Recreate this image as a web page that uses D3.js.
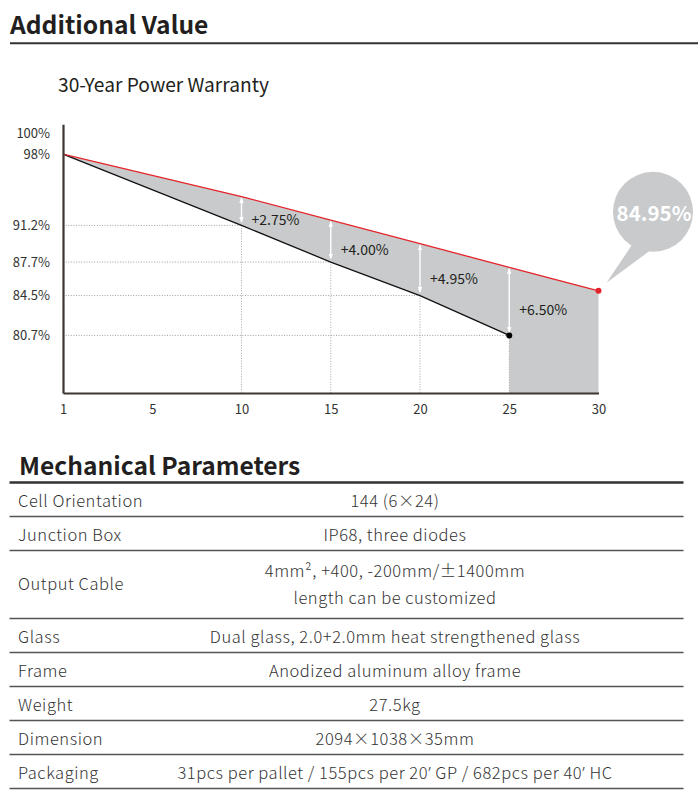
<!DOCTYPE html>
<html><head><meta charset="utf-8">
<script src="https://cdn.jsdelivr.net/npm/d3@7"></script>
<style>
html,body{margin:0;padding:0;background:#fff;}
svg{display:block;font-family:"Noto Sans CJK SC","Noto Sans",sans-serif;}
</style></head>
<body><svg id="c" width="698" height="795"></svg>
<script>
// ---- data ----
const years = ["1","5","10","15","20","25","30"];
const standardYears = ["1","10","15","20","25"];
const standardValues = [98, 91.2, 87.7, 84.5, 80.7];
const warrantyYears = ["1","10","15","20","25","30"];
const warrantyValues = [98, 93.95, 91.7, 89.45, 87.2, 84.95];
const gainYears = ["10","15","20","25"];
const gainLabels = ["+2.75%","+4.00%","+4.95%","+6.50%"];
const yTickValues = [80.7, 84.5, 87.7, 91.2, 98, 100];
const yTickLabels = ["80.7%","84.5%","87.7%","91.2%","98%","100%"];
const paramNames = ["Cell Orientation","Junction Box","Output Cable","Glass","Frame","Weight","Dimension","Packaging"];
const paramValues = [
  ["144 (6×24)"],
  ["IP68, three diodes"],
  ["4mm², +400, -200mm/±1400mm","length can be customized"],
  ["Dual glass, 2.0+2.0mm heat strengthened glass"],
  ["Anodized aluminum alloy frame"],
  ["27.5kg"],
  ["2094×1038×35mm"],
  ["31pcs per pallet / 155pcs per 20’ GP / 682pcs per 40’ HC"]
];

// ---- setup ----
const svg = d3.select("#c");
const dark = "#231f20", axisCol = "#3d3632", fillCol = "#c8cacc", redCol = "#e3262b";

svg.append("text").attr("x",10).attr("y",33.5).attr("font-size",24.6).attr("font-weight",700)
  .attr("fill",dark).text("Additional Value");
svg.append("line").attr("x1",10).attr("x2",698).attr("y1",43.3).attr("y2",43.3)
  .attr("stroke","#333").attr("stroke-width",2);
svg.append("text").attr("x",58).attr("y",92).attr("font-size",19.2)
  .attr("fill",dark).text("30-Year Power Warranty");

const x = d3.scalePoint().domain(years).range([63, 598.5]);
const y = d3.scaleLinear().domain([75.2, 100.85]).range([393, 124.3]);
const bottom = y.range()[0];

const std = standardYears.map((d,i)=>({year:d, v:standardValues[i]}));
const war = warrantyYears.map((d,i)=>({year:d, v:warrantyValues[i]}));
const stdMap = new Map(std.map(d=>[d.year,d.v]));
const warMap = new Map(war.map(d=>[d.year,d.v]));

// filled region
const poly = [];
war.forEach(d=>poly.push([x(d.year), y(d.v)]));
poly.push([x(war[war.length-1].year), bottom]);
poly.push([x(std[std.length-1].year), bottom]);
std.slice().reverse().forEach(d=>poly.push([x(d.year), y(d.v)]));
svg.append("path").attr("d", d3.line()(poly) + "Z").attr("fill", fillCol);

// dotted grid lines
const g = svg.append("g");
std.slice(1).forEach(d=>{
  g.append("line").attr("x1",x("1")).attr("x2",x(d.year)).attr("y1",y(d.v)).attr("y2",y(d.v))
    .attr("stroke","#9d9d9d").attr("stroke-width",1).attr("stroke-dasharray","1,1.6");
  g.append("line").attr("x1",x(d.year)).attr("x2",x(d.year)).attr("y1",y(d.v)).attr("y2",bottom)
    .attr("stroke","#a8a8a8").attr("stroke-width",1).attr("stroke-dasharray","1,1.6");
});

// arrows
const defs = svg.append("defs");
defs.append("marker").attr("id","ah").attr("viewBox","0 0 6 6").attr("refX",5).attr("refY",3)
  .attr("markerWidth",6).attr("markerHeight",6).attr("orient","auto-start-reverse")
  .attr("markerUnits","userSpaceOnUse")
  .append("path").attr("d","M0,0.8L6,3L0,5.2Z").attr("fill","#fff");
gainYears.forEach((yr,i)=>{
  const yr1 = y(warMap.get(yr)), yb = y(stdMap.get(yr));
  svg.append("line").attr("x1",x(yr)).attr("x2",x(yr)).attr("y1",yb-3.5).attr("y2",yr1+1.5)
    .attr("stroke","#fff").attr("stroke-width",1.4)
    .attr("marker-start","url(#ah)").attr("marker-end","url(#ah)");
  svg.append("text").attr("x",x(yr)+10).attr("y",(yb+yr1)/2+8).attr("dominant-baseline","central")
    .attr("font-size",14).attr("fill",dark).text(gainLabels[i]);
});

// lines
const line = d3.line().x(d=>x(d.year)).y(d=>y(d.v));
svg.append("path").attr("d",line(std)).attr("fill","none").attr("stroke","#111").attr("stroke-width",1.3);
svg.append("path").attr("d",line(war)).attr("fill","none").attr("stroke",redCol).attr("stroke-width",1.3);

// axes
const yAxis = d3.axisLeft(y).tickValues(yTickValues).tickSize(0).tickPadding(13)
  .tickFormat((d,i)=>yTickLabels[i]);
const ya = svg.append("g").attr("transform",`translate(${x("1")},0)`).call(yAxis);
const xAxis = d3.axisBottom(x).tickSize(0).tickPadding(12);
const xa = svg.append("g").attr("transform",`translate(0,${bottom})`).call(xAxis);
[ya,xa].forEach(a=>{
  a.select(".domain").attr("stroke",axisCol).attr("stroke-width",2.2);
  a.selectAll("text").attr("font-size",13).attr("fill","#333")
    .attr("font-family","'Noto Sans CJK SC','Noto Sans',sans-serif");
});

// end dots
const lastStd = std[std.length-1], lastWar = war[war.length-1];
svg.append("circle").attr("cx",x(lastStd.year)).attr("cy",y(lastStd.v)).attr("r",3).attr("fill","#000");
svg.append("circle").attr("cx",x(lastWar.year)).attr("cy",y(lastWar.v)).attr("r",3).attr("fill",redCol);

// bubble
const bx = x(lastWar.year), by = y(lastWar.v);
const cx = bx + 54.5, cy = by - 79, r = 40;
svg.append("path").attr("d", d3.line()([[cx-21,cy+33],[bx+8,by-8],[cx-4,cy+39.5]])+"Z").attr("fill",fillCol);
svg.append("circle").attr("cx",cx).attr("cy",cy).attr("r",r).attr("fill",fillCol);
svg.append("text").attr("x",cx+1).attr("y",cy).attr("text-anchor","middle").attr("dominant-baseline","central")
  .attr("font-size",20.5).attr("font-weight",700).attr("fill","#fff").text(lastWar.v.toFixed(2)+"%");

// ---- table ----
svg.append("text").attr("x",19).attr("y",475).attr("font-size",24.6).attr("font-weight",700)
  .attr("fill",dark).text("Mechanical Parameters");
const tTop = 482.5, unit = 34, tx0 = 9.5, tx1 = 683.5;
svg.append("line").attr("x1",tx0).attr("x2",tx1).attr("y1",tTop).attr("y2",tTop)
  .attr("stroke","#333").attr("stroke-width",2.3);

function addText(sel, str) {
  // render ’ with a Latin font so it stays narrow
  const parts = str.split("’");
  parts.forEach((p,k)=>{
    if (p) sel.append("tspan").text(p);
    if (k < parts.length-1) sel.append("tspan").attr("font-family","'Noto Sans',sans-serif").text("’");
  });
}
let cur = tTop;
paramNames.forEach((name,i)=>{
  const lines = paramValues[i];
  const h = unit * lines.length;
  const c = cur + h/2;
  const t = svg.append("g").attr("font-size",16.5).attr("font-weight",300)
    .attr("letter-spacing",0.55).attr("fill","#333");
  t.append("text").attr("x",18).attr("y", c + (lines.length>1 ? 5.5 : 7)).text(name);
  lines.forEach((ln,j)=>{
    const yy = lines.length>1 ? c + 5.5 + (j-(lines.length-1)/2)*27 : c + 7;
    addText(t.append("text").attr("x",395).attr("y",yy).attr("text-anchor","middle"), ln);
  });
  cur += h;
  svg.append("line").attr("x1",tx0).attr("x2",tx1).attr("y1",cur).attr("y2",cur)
    .attr("stroke","#555").attr("stroke-width",1.3);
});
</script></body></html>
